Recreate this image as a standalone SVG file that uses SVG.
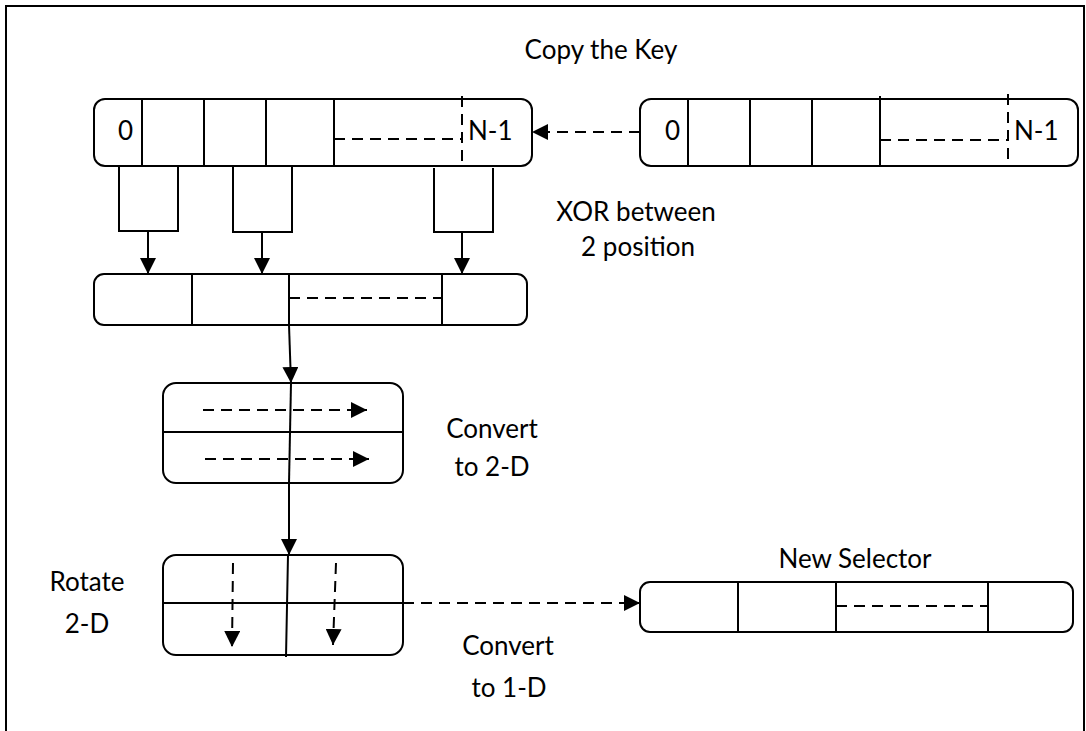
<svg xmlns="http://www.w3.org/2000/svg" width="1086" height="731" viewBox="0 0 1086 731">
<defs>
<marker id="ah" markerUnits="userSpaceOnUse" markerWidth="16" markerHeight="16" viewBox="0 0 16 16" refX="16" refY="8" orient="auto">
<path d="M0,0 L16,8 L0,16 Z" fill="#000"/>
</marker>
</defs>
<style>
.box{fill:#fff;stroke:#000;stroke-width:2}
.ln{fill:none;stroke:#000;stroke-width:2}
.dash{fill:none;stroke:#000;stroke-width:2;stroke-dasharray:11 7}
.arr{marker-end:url(#ah)}
text{font-family:Lato,"Liberation Sans",sans-serif;font-size:26px;fill:#000}
.c{text-anchor:middle}
</style>
<rect x="0" y="0" width="1086" height="731" fill="#fff"/>
<path class="ln" d="M6,740 L6,6 L1084,6 L1084,740"/>

<g id="key-array">
<rect class="box" x="94" y="99" width="438" height="67" rx="11"/>
<path class="ln" d="M142,99 V166 M204,99 V166 M266,99 V166 M334,99 V166"/>
<path class="dash" d="M334,139 H462 M462,96 V166"/>
<text x="118" y="140">0</text>
<text x="468" y="140">N-1</text>
</g>

<g id="source-key">
<rect class="box" x="640" y="99" width="438" height="67" rx="11"/>
<path class="ln" d="M688,99 V166 M750,99 V166 M812,99 V166 M880,96 V166"/>
<path class="dash" d="M880,140 H1008 M1008,94 V166"/>
<text x="665" y="140">0</text>
<text x="1014" y="140">N-1</text>
</g>

<g id="xor-pairs">
<path class="ln" d="M119,166 V231 H178 V166"/>
<path class="ln" d="M233,166 V232 H292 V166"/>
<path class="ln" d="M434,168 V232 H493 V168"/>
</g>

<g id="xor-result">
<rect class="box" x="94" y="274" width="433" height="51" rx="10"/>
<path class="ln" d="M192,274 V325 M289,274 V325 M442,274 V325"/>
<path class="dash" d="M289,298 H442"/>
</g>

<g id="matrix-2d">
<rect class="box" x="163" y="383" width="240" height="100" rx="13"/>
<path class="ln" d="M163,432 H403"/>
<path class="dash arr" d="M203,410 H367"/>
<path class="dash arr" d="M205,459 H369"/>
</g>

<g id="rotate-2d">
<rect class="box" x="163" y="555" width="240" height="100" rx="13"/>
<path class="ln" d="M162,603 H403 M288,555 L286,657"/>
<path class="dash arr" d="M233,563 L232,647"/>
<path class="dash arr" d="M336,563 L333,645"/>
</g>

<g id="new-selector">
<rect class="box" x="640" y="582" width="433" height="50" rx="10"/>
<path class="ln" d="M738,582 V632 M836,582 V632 M988,582 V632"/>
<path class="dash" d="M836,606 H988"/>
</g>

<g id="connectors">
<path class="dash arr" d="M640,132 H532"/>
<path class="ln arr" d="M148,232 V274"/>
<path class="ln arr" d="M262,232 V274"/>
<path class="ln arr" d="M462,232 V274"/>
<path class="ln arr" d="M289,325 L291,383"/>
<path class="ln" d="M291,383 L289,483"/>
<path class="ln arr" d="M289,483 V555"/>
<path class="dash arr" d="M403,603 H640"/>
</g>

<g id="labels">
<text class="c" x="601" y="59">Copy the Key</text>
<text class="c" x="636" y="221">XOR between</text>
<text class="c" x="638" y="256">2 position</text>
<text class="c" x="492" y="438">Convert</text>
<text class="c" x="492" y="476">to 2-D</text>
<text class="c" x="87" y="591">Rotate</text>
<text class="c" x="87" y="633">2-D</text>
<text class="c" x="508" y="655">Convert</text>
<text class="c" x="509" y="697">to 1-D</text>
<text class="c" x="855" y="568">New Selector</text>
</g>
</svg>
